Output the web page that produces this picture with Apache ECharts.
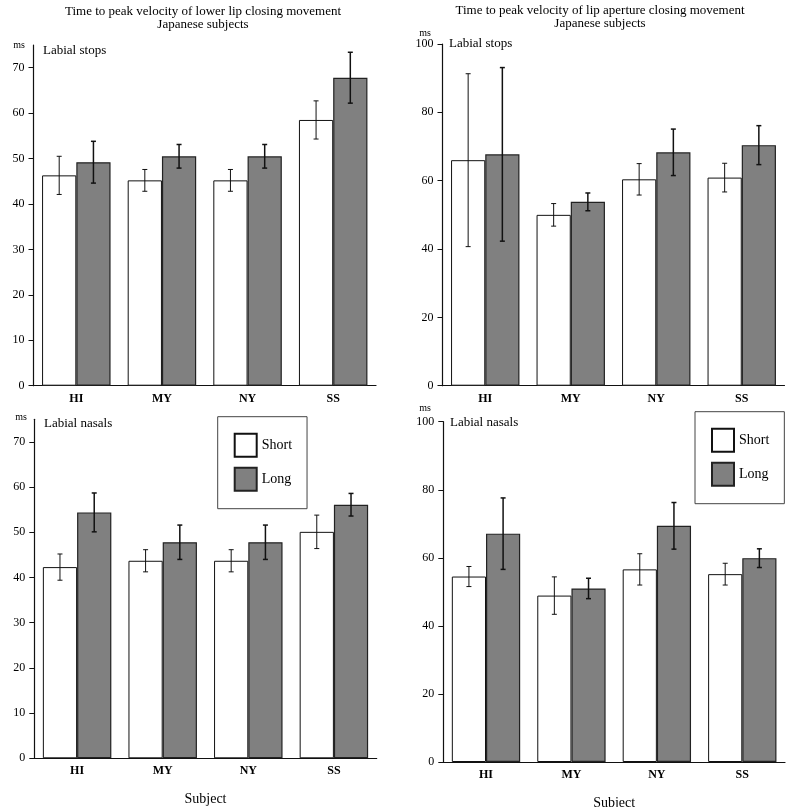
<!DOCTYPE html>
<html>
<head>
<meta charset="utf-8">
<script src="https://cdn.jsdelivr.net/npm/echarts@6/dist/echarts.min.js"></script>
<style>
html,body{margin:0;padding:0;background:#fff;}
#chart{width:800px;height:807px;}
</style>
</head>
<body>
<div id="chart"></div>
<script>
// ---- data ----
const subjects = ['HI', 'MY', 'NY', 'SS'];
const seriesNames = ['Short', 'Long'];

// Top-left: lower lip, labial stops
const lipStopsShort = [46.3, 45.2, 45.2, 58.5];
const lipStopsShortErr = [4.2, 2.4, 2.4, 4.2];
const lipStopsLong = [49.2, 50.5, 50.5, 67.8];
const lipStopsLongErr = [4.6, 2.6, 2.6, 5.6];

// Top-right: lip aperture, labial stops
const apStopsShort = [66.0, 50.0, 60.4, 60.9];
const apStopsShortErr = [25.3, 3.3, 4.6, 4.2];
const apStopsLong = [67.7, 53.8, 68.3, 70.4];
const apStopsLongErr = [25.4, 2.6, 6.8, 5.7];

// Bottom-left: lower lip, labial nasals
const lipNasalsShort = [42.3, 43.7, 43.7, 50.1];
const lipNasalsShortErr = [2.9, 2.45, 2.45, 3.7];
const lipNasalsLong = [54.4, 47.8, 47.8, 56.1];
const lipNasalsLongErr = [4.3, 3.8, 3.8, 2.5];

// Bottom-right: lip aperture, labial nasals
const apNasalsShort = [54.5, 48.9, 56.6, 55.2];
const apNasalsShortErr = [2.95, 5.5, 4.6, 3.2];
const apNasalsLong = [67.1, 51.0, 69.4, 59.9];
const apNasalsLongErr = [10.5, 3.0, 6.85, 2.75];

const leftTicks = [0, 10, 20, 30, 40, 50, 60, 70];
const rightTicks = [0, 20, 40, 60, 80, 100];

// ---- styling ----
const FONT = '"Liberation Serif", "Times New Roman", serif';
const panels = [
  {grid: {left: 33.5, top: 45, width: 342.5, height: 340.7}, max: 75, ticks: leftTicks,
   s: lipStopsShort, se: lipStopsShortErr, l: lipStopsLong, le: lipStopsLongErr, xname: ''},
  {grid: {left: 442.5, top: 44, width: 342, height: 341.7}, max: 100, ticks: rightTicks,
   s: apStopsShort, se: apStopsShortErr, l: apStopsLong, le: apStopsLongErr, xname: ''},
  {grid: {left: 34.3, top: 419.3, width: 342.4, height: 339}, max: 75, ticks: leftTicks,
   s: lipNasalsShort, se: lipNasalsShortErr, l: lipNasalsLong, le: lipNasalsLongErr, xname: 'Subject'},
  {grid: {left: 443.3, top: 421.7, width: 341.7, height: 340.3}, max: 100, ticks: rightTicks,
   s: apNasalsShort, se: apNasalsShortErr, l: apNasalsLong, le: apNasalsLongErr, xname: 'Subject'}
];

const grids = [], xAxes = [], yAxes = [], series = [];

function errRender(offset, lw) {
  return function (params, api) {
    const i = api.value(0), v = api.value(1), e = api.value(2);
    const band = api.size([1, 0])[0];
    const c = api.coord([i, v]);
    const x = c[0] + offset * band;
    const top = api.coord([i, v + e])[1];
    const bot = api.coord([i, v - e])[1];
    const cap = 2.5;
    const st = {stroke: '#111', lineWidth: lw};
    return {
      type: 'group',
      children: [
        {type: 'line', shape: {x1: x, y1: top, x2: x, y2: bot}, style: st},
        {type: 'line', shape: {x1: x - cap, y1: top, x2: x + cap, y2: top}, style: st},
        {type: 'line', shape: {x1: x - cap, y1: bot, x2: x + cap, y2: bot}, style: st}
      ]
    };
  };
}

panels.forEach((p, k) => {
  grids.push(Object.assign({outerBoundsMode: 'none', containLabel: false}, p.grid));
  xAxes.push({
    type: 'category', gridIndex: k, data: subjects,
    axisLine: {lineStyle: {color: '#111', width: 1.2}},
    axisTick: {length: 6, lineStyle: {color: '#111'}},
    axisLabel: {color: '#000', fontFamily: FONT, fontSize: 12, fontWeight: 'bold', margin: 7},
    name: p.xname, nameLocation: 'middle', nameGap: 34,
    nameTextStyle: {color: '#000', fontFamily: FONT, fontSize: 14}
  });
  yAxes.push({
    type: 'value', gridIndex: k, min: 0, max: p.max,
    splitLine: {show: false},
    axisLine: {show: true, lineStyle: {color: '#111', width: 1.2}},
    axisTick: {show: true, length: 5, customValues: p.ticks, lineStyle: {color: '#111'}},
    axisLabel: {customValues: p.ticks, color: '#000', fontFamily: FONT, fontSize: 12, margin: 9}
  });
  series.push({
    name: 'Short', type: 'bar', xAxisIndex: k, yAxisIndex: k, data: p.s,
    barGap: 0, barCategoryGap: '20%',
    itemStyle: {color: '#ffffff', borderColor: '#111', borderWidth: 1},
    emphasis: {disabled: true}
  });
  series.push({
    name: 'Long', type: 'bar', xAxisIndex: k, yAxisIndex: k, data: p.l,
    barGap: 0, barCategoryGap: '20%',
    itemStyle: {color: '#808080', borderColor: '#222', borderWidth: 1.2},
    emphasis: {disabled: true}
  });
  series.push({
    type: 'custom', xAxisIndex: k, yAxisIndex: k, z: 10, silent: true,
    renderItem: errRender(-0.2, 1),
    encode: {x: 0, y: 1},
    data: p.s.map((v, i) => [i, v, p.se[i]])
  });
  series.push({
    type: 'custom', xAxisIndex: k, yAxisIndex: k, z: 10, silent: true,
    renderItem: errRender(0.2, 1.5),
    encode: {x: 0, y: 1},
    data: p.l.map((v, i) => [i, v, p.le[i]])
  });
});

function txt(text, x, y, size, align) {
  return {type: 'text', x: x, y: y, silent: true,
    style: {text: text, fill: '#000', font: size + 'px ' + FONT, align: align || 'left', verticalAlign: 'middle'}};
}

const legendCommon = {
  orient: 'vertical', data: seriesNames, itemWidth: 22, itemHeight: 23, itemGap: 9,
  borderColor: '#444', borderWidth: 1, padding: [16, 15, 17, 16],
  selectedMode: false, icon: 'rect',
  textStyle: {color: '#000', fontFamily: FONT, fontSize: 14}
};

const option = {
  animation: false,
  backgroundColor: '#fff',
  grid: grids, xAxis: xAxes, yAxis: yAxes, series: series,
  legend: [
    Object.assign({left: 217.7, top: 416.7}, legendCommon),
    Object.assign({left: 695, top: 411.7}, legendCommon)
  ],
  graphic: [
    txt('Time to peak velocity of lower lip closing movement', 203, 12, 13, 'center'),
    txt('Japanese subjects', 203, 25, 13, 'center'),
    txt('Time to peak velocity of lip aperture closing movement', 600, 11, 13, 'center'),
    txt('Japanese subjects', 600, 24, 13, 'center'),
    txt('Labial stops', 43, 51, 13),
    txt('Labial stops', 449, 44, 13),
    txt('Labial nasals', 44, 424, 13),
    txt('Labial nasals', 450, 423, 13),
    txt('ms', 19, 45, 10, 'center'),
    txt('ms', 425, 33, 10, 'center'),
    txt('ms', 21, 417, 10, 'center'),
    txt('ms', 425, 408, 10, 'center')
  ]
};

const chart = echarts.init(document.getElementById('chart'), null, {renderer: 'canvas'});
chart.setOption(option);
</script>
</body>
</html>
